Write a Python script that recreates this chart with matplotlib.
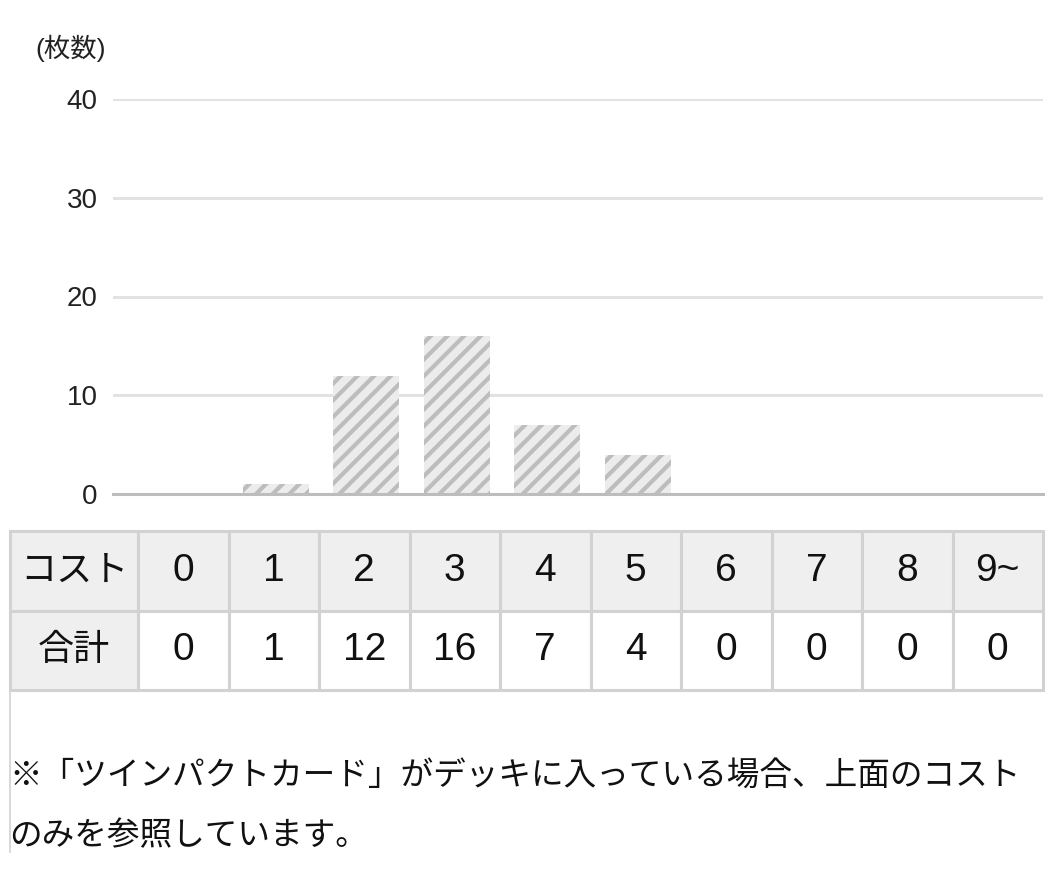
import numpy as np
import matplotlib
matplotlib.use("Agg")
import matplotlib.pyplot as plt
from matplotlib.lines import Line2D

plt.rcParams['font.family'] = ['Liberation Sans', 'Noto Sans CJK JP', 'DejaVu Sans']
plt.rcParams['hatch.linewidth'] = 3.0

# data
cost_labels = ['0', '1', '2', '3', '4', '5', '6', '7', '8', '9~']
counts = [0, 1, 12, 16, 7, 4, 0, 0, 0, 0]
y_ticks = [0, 10, 20, 30, 40]
row_headers = ['コスト', '合計']
unit_label = '(枚数)'
note = '※「ツインパクトカード」がデッキに入っている場合、上面のコスト\nのみを参照しています。'

W, H = 1055, 881
fig = plt.figure(figsize=(W / 100, H / 100), dpi=100)
cjk = ['Noto Sans CJK JP', 'DejaVu Sans']


def px_axes(x0, y0, x1, y1):
    return fig.add_axes([x0 / W, 1 - y1 / H, (x1 - x0) / W, (y1 - y0) / H])


# bar chart
ax = px_axes(113, 99, 1043, 494)
x = np.arange(len(counts))
ax.bar(x, counts, width=0.73, facecolor='#ececec', edgecolor='#bdbdbd',
       linewidth=0, hatch='//', zorder=2)
ax.set_xlim(-0.8, 9.48)
ax.set_ylim(0, 40)
ax.set_yticks(y_ticks)
ax.set_xticks([])
ax.grid(axis='y', color='#e2e2e2', linewidth=2.2, zorder=0)
ax.set_axisbelow(True)
for s in ['top', 'right', 'left']:
    ax.spines[s].set_visible(False)
ax.spines['bottom'].set_color('#bdbdbd')
ax.spines['bottom'].set_linewidth(2.2)
ax.spines['bottom'].set_zorder(3)
ax.tick_params(axis='y', length=0, pad=11, labelsize=20, labelcolor='#222222')
fig.text(35 / W, 1 - 48 / H, unit_label, fontsize=19, va='center', ha='left',
         color='#222222', family=['Liberation Sans'] + cjk)

# table
tax = px_axes(10, 531, 1043, 690)
tax.axis('off')
cells = [[row_headers[0]] + cost_labels,
         [row_headers[1]] + [str(c) for c in counts]]
col_w = [128] + [90.5] * len(cost_labels)
col_w = [c / sum(col_w) for c in col_w]
tbl = tax.table(cellText=cells, colWidths=col_w, bbox=[0, 0, 1, 1],
                cellLoc='center')
tbl.auto_set_font_size(False)
for (r, c), cell in tbl.get_celld().items():
    cell.set_edgecolor('#d2d2d2')
    cell.set_linewidth(2.2)
    cell.set_facecolor('#efefef' if (r == 0 or c == 0) else 'white')
    t = cell.get_text()
    t.set_color('#111111')
    if c == 0:
        t.set_fontsize(26)
        t.set_family(cjk)
    else:
        t.set_fontsize(28)

# left border line below the table
fig.add_artist(Line2D([10 / W, 10 / W], [1 - 690 / H, 1 - 852 / H],
                      color='#d2d2d2', linewidth=1.2))

# footnote
fig.text(9 / W, 1 - 806 / H, note, fontsize=23.5, va='center', ha='left',
         linespacing=2.1, color='#111111', family=cjk)

fig.savefig('out.png', dpi=100)
